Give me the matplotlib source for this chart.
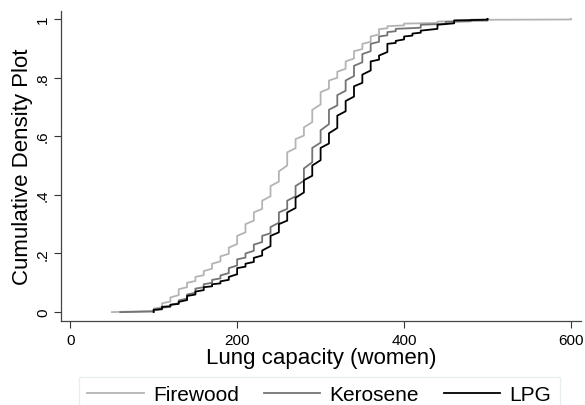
import matplotlib
matplotlib.use("Agg")
import matplotlib.pyplot as plt

plt.rcParams['font.family'] = ['Liberation Sans', 'DejaVu Sans']

# values: lung capacity where the cdf jumps, cdf before / after the jump
fw_x = [50, 100, 110, 120, 130, 140, 150, 160, 170, 180, 190, 200, 210, 220, 230, 240, 250,
        260, 270, 280, 290, 300, 310, 320, 330, 340, 350, 360, 370, 380, 400, 440, 500, 600]
fw_lo = [0, .004, .017, .036, .058, .085, .106, .126, .148, .173, .199, .232, .272, .312, .352, .395, .445,
         .50, .559, .602, .648, .708, .762, .799, .83, .865, .897, .922, .947, .968, .978, .986, .993, .998]
fw_hi = [0, .012, .03, .05, .078, .10, .12, .14, .165, .19, .22, .26, .30, .34, .38, .43, .48,
         .545, .59, .63, .69, .75, .79, .82, .855, .89, .915, .94, .965, .975, .984, .991, .997, 1]

ke_x = [60, 100, 110, 120, 130, 140, 150, 160, 170, 180, 190, 200, 210, 220, 230, 240, 250,
        260, 270, 280, 290, 300, 310, 320, 330, 340, 350, 360, 370, 380, 390, 420, 450, 480, 500]
ke_lo = [0, .002, .009, .018, .03, .046, .066, .085, .10, .115, .133, .159, .186, .209, .239, .269, .305,
         .352, .395, .448, .511, .578, .641, .705, .755, .805, .852, .89, .922, .944, .958, .97, .983, .992, .998]
ke_hi = [0, .006, .015, .025, .04, .06, .08, .095, .11, .125, .15, .18, .20, .23, .26, .29, .34,
         .38, .43, .49, .56, .62, .69, .74, .79, .84, .88, .915, .94, .955, .966, .98, .99, .997, 1]

lpg_x = [100, 110, 120, 130, 140, 150, 160, 170, 180, 190, 200, 210, 220, 230, 240, 250, 260,
         270, 280, 290, 300, 310, 320, 330, 340, 350, 360, 370, 380, 390, 400, 410, 420, 440, 460, 500]
lpg_lo = [0, .011, .02, .028, .041, .06, .075, .088, .098, .11, .129, .155, .171, .193, .225, .272, .312,
          .355, .408, .465, .518, .575, .628, .685, .735, .782, .824, .861, .887, .918, .93, .943, .953, .966, .985, .997]
lpg_hi = [.008, .018, .025, .035, .055, .07, .085, .095, .105, .12, .15, .165, .185, .21, .26, .30, .34,
          .39, .45, .50, .56, .61, .67, .72, .77, .81, .855, .875, .915, .925, .94, .95, .96, .98, .995, 1]

series = [("Firewood", fw_x, fw_lo, fw_hi, "#b4b4b4"),
          ("Kerosene", ke_x, ke_lo, ke_hi, "#747474"),
          ("LPG", lpg_x, lpg_lo, lpg_hi, "#000000")]

fig = plt.figure(figsize=(5.85, 4.06), dpi=100)
ax = fig.add_axes([0.1043, 0.2057, 0.8889, 0.7655])

handles = []
for name, xs, lo, hi, col in series:
    px, py = [], []
    for x, a, b in zip(xs, lo, hi):
        px += [x, x]
        py += [a, b]
    h, = ax.plot(px, py, color=col, lw=1.3, label=name)
    handles.append(h)

ax.set_xlim(-11, 612)
ax.set_ylim(-0.032, 1.028)
ax.set_xticks([0, 200, 400, 600])
ax.set_yticks([0, .2, .4, .6, .8, 1])
ax.set_yticklabels(["0", ".2", ".4", ".6", ".8", "1"], rotation=90, va='center')
ax.tick_params(labelsize=11, length=5, width=0.8, color='#333333', pad=3)
for s in ['top', 'right']:
    ax.spines[s].set_visible(False)
for s in ['left', 'bottom']:
    ax.spines[s].set_color('#444444')
    ax.spines[s].set_linewidth(0.9)

ax.set_xlabel("Lung capacity (women)", fontsize=16, labelpad=0)
ax.set_ylabel("Cumulative Density Plot", fontsize=16, labelpad=2)

leg = fig.legend(handles=handles, loc='upper left', bbox_to_anchor=(79 / 585, 1 - 378 / 406),
                 ncol=3, fontsize=15, frameon=True, fancybox=False, borderaxespad=0,
                 handlelength=2.7, handletextpad=0.45, columnspacing=1.2, borderpad=0.4)
leg.get_frame().set_edgecolor('#e2eaee')
leg.get_frame().set_linewidth(0.9)

fig.savefig("out.png", dpi=100)
